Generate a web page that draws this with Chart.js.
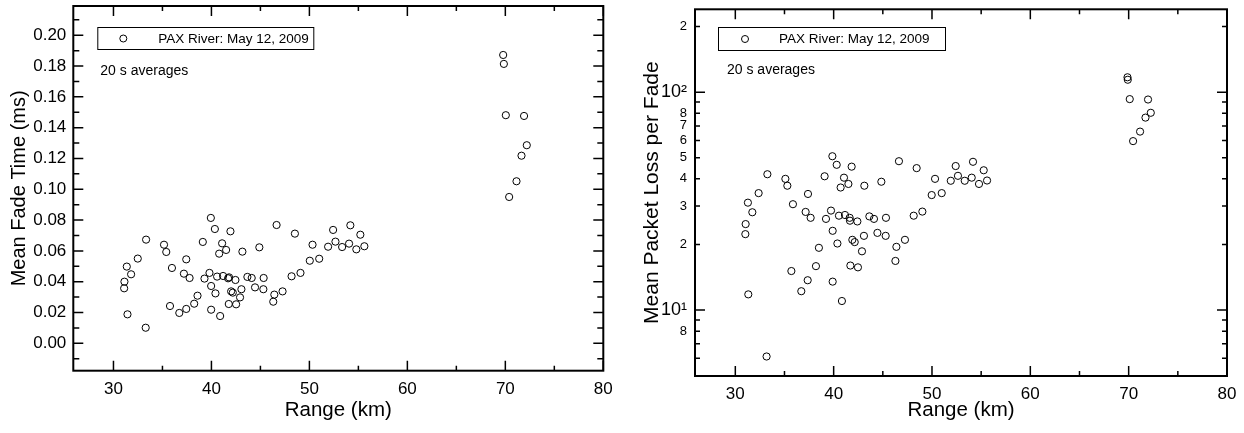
<!DOCTYPE html>
<html>
<head>
<meta charset="utf-8">
<script src="https://cdn.jsdelivr.net/npm/chart.js@4.4.0/dist/chart.umd.min.js"></script>
<style>
html,body{margin:0;padding:0;background:#fff;}
#wrap{position:relative;width:1244px;height:433px;overflow:hidden;}
.c{position:absolute;top:0;width:622px;height:433px;}
</style>
</head>
<body>
<div id="wrap">
  <div class="c" style="left:0"><canvas id="c1" width="622" height="433"></canvas></div>
  <div class="c" style="left:622px"><canvas id="c2" width="622" height="433"></canvas></div>
</div>
<script>
// ---------------- DATA ----------------
const legendLabel = 'PAX River: May 12, 2009';
const noteText = '20 s averages';

// Left panel: mean fade time (ms) vs range (km)
const fadeRange = [31.12,31.09,31.36,31.80,31.43,32.48,33.33,33.29,35.16,35.39,35.97,35.77,36.72,37.19,37.43,37.77,37.43,38.24,38.58,39.12,39.29,39.94,39.80,39.97,39.97,40.35,40.41,40.58,40.79,41.09,41.19,41.50,41.70,41.80,41.77,41.94,42.01,42.18,42.45,42.52,42.92,43.06,43.16,43.67,44.11,44.45,44.89,45.30,45.33,46.31,46.42,46.65,47.26,48.18,48.52,49.09,40.89,50.04,50.32,51.00,51.91,52.42,52.66,53.34,54.05,54.18,54.79,55.20,55.61,69.78,69.85,70.05,71.91,72.19,71.65,71.14,70.39];
const fadeTime = [0.0400,0.0357,0.0498,0.0448,0.0188,0.0550,0.0673,0.0101,0.0640,0.0593,0.0489,0.0242,0.0197,0.0452,0.0545,0.0424,0.0223,0.0257,0.0309,0.0658,0.0420,0.0814,0.0457,0.0372,0.0218,0.0742,0.0324,0.0433,0.0582,0.0649,0.0437,0.0606,0.0422,0.0428,0.0255,0.0727,0.0337,0.0329,0.0411,0.0253,0.0298,0.0351,0.0595,0.0431,0.0424,0.0363,0.0623,0.0351,0.0424,0.0270,0.0316,0.0768,0.0337,0.0435,0.0712,0.0457,0.0177,0.0536,0.0640,0.0549,0.0627,0.0736,0.0660,0.0625,0.0647,0.0766,0.0610,0.0705,0.0630,0.1872,0.1814,0.1481,0.1476,0.1286,0.1218,0.1052,0.0950];

// Right panel: mean packet loss per fade vs range (km)
const lossRange = [32.37,33.26,35.09,35.29,37.39,39.08,39.87,40.31,41.05,40.71,41.50,41.83,43.12,44.85,46.64,48.44,50.31,49.97,50.99,51.91,31.28,31.05,31.02,31.73,31.32,33.18,35.86,35.70,37.15,37.66,37.36,36.71,38.20,38.50,39.22,39.73,39.90,39.90,40.38,40.54,41.15,40.84,41.63,41.66,41.70,41.90,42.14,42.41,42.47,42.88,43.08,43.63,44.10,44.45,45.29,45.32,46.28,46.38,47.25,48.14,49.02,52.41,52.64,53.33,54.17,54.04,54.78,55.26,55.60,69.88,69.91,70.11,71.97,72.25,71.71,71.16,70.45];
const lossPerFade = [34.4,42.0,40.0,37.2,34.1,41.1,50.8,46.4,40.5,36.5,37.9,45.5,37.2,38.8,48.2,44.8,40.0,33.7,34.4,39.2,31.1,24.8,22.3,28.1,11.8,6.12,30.6,15.1,28.2,26.5,13.7,12.2,15.9,19.3,26.2,28.6,23.1,13.5,20.2,27.1,27.3,11.0,26.5,25.7,16.0,21.0,20.5,25.5,15.7,18.6,21.9,26.9,26.2,22.6,21.9,26.5,16.8,19.5,21.0,27.1,28.3,45.8,41.3,39.2,47.9,40.5,37.9,43.8,39.3,117,114,92.9,92.5,80.4,76.4,65.9,59.6];

// Axis ticks
const xTickValues = [30,40,50,60,70,80];
const xMinorValues = [35,45,55,65,75];
const fadeTickValues = [0.00,0.02,0.04,0.06,0.08,0.10,0.12,0.14,0.16,0.18,0.20];
const fadeMinorValues = [-0.01,0.01,0.03,0.05,0.07,0.09,0.11,0.13,0.15,0.17,0.19,0.21];
const lossTickValues = [8,10,20,30,40,50,60,70,80,100,200];
const lossTickLabels = ['8','10\u00B9','2','3','4','5','6','7','8','10\u00B2','2'];
const lossMajorValues = [10,100];
const lossMinorValues = [6,7,8,9,20,30,40,50,60,70,80,90,200];

// ---------------- RENDERING ----------------
const FONT = '"Liberation Sans", Arial, Helvetica, sans-serif';
Chart.defaults.font.family = FONT;
Chart.defaults.color = '#000';

const frameTicks = {
  id: 'frameTicks',
  afterDraw(chart, args, o) {
    const {ctx, chartArea: a} = chart;
    const x = chart.scales.x, y = chart.scales.y;
    ctx.save();
    ctx.strokeStyle = '#000';
    ctx.lineWidth = 1.5;
    ctx.beginPath();
    const tick = (arr, len, horiz) => arr.forEach(v => {
      if (horiz) {
        const p = x.getPixelForValue(v);
        if (p < a.left - 0.5 || p > a.right + 0.5) return;
        ctx.moveTo(p, a.bottom); ctx.lineTo(p, a.bottom - len);
        ctx.moveTo(p, a.top); ctx.lineTo(p, a.top + len);
      } else {
        const p = y.getPixelForValue(v);
        if (p < a.top - 0.5 || p > a.bottom + 0.5) return;
        ctx.moveTo(a.left, p); ctx.lineTo(a.left + len, p);
        ctx.moveTo(a.right, p); ctx.lineTo(a.right - len, p);
      }
    });
    tick(o.xMajor, 10, true);
    tick(o.xMinor, 5, true);
    tick(o.yMajor, 10, false);
    tick(o.yMinor, o.yMinorLen, false);
    ctx.stroke();
    ctx.lineWidth = 2;
    ctx.strokeRect(a.left, a.top, a.right - a.left, a.bottom - a.top);
    // legend box
    const L = o.legend;
    ctx.lineWidth = 1;
    ctx.strokeRect(a.left + L.dx + 0.5, a.top + L.dy + 0.5, L.w, L.h);
    ctx.beginPath();
    ctx.arc(a.left + L.dx + L.mx, a.top + L.dy + L.h / 2 + 0.5, 3.5, 0, Math.PI * 2);
    ctx.stroke();
    ctx.fillStyle = '#000';
    ctx.font = '13.5px ' + FONT;
    ctx.textBaseline = 'middle';
    ctx.textAlign = 'left';
    ctx.fillText(legendLabel, a.left + L.dx + L.tx, a.top + L.dy + L.h / 2 + 1);
    ctx.font = '14px ' + FONT;
    ctx.fillText(noteText, a.left + o.note.dx, a.top + o.note.dy);
    ctx.restore();
  }
};

const zeroPad = s => { s.paddingTop = 0; s.paddingBottom = 0; s.paddingLeft = 0; s.paddingRight = 0; };

function makeChart(id, xs, ys, cfg) {
  const pts = xs.map((v, i) => ({x: v, y: ys[i]}));
  return new Chart(document.getElementById(id), {
    type: 'scatter',
    data: {datasets: [{
      label: legendLabel,
      data: pts,
      pointStyle: 'circle',
      pointRadius: 3.6,
      pointHoverRadius: 3.6,
      borderWidth: 1,
      borderColor: '#000',
      backgroundColor: 'rgba(0,0,0,0)'
    }]},
    options: {
      responsive: false,
      animation: false,
      devicePixelRatio: 1,
      layout: {padding: cfg.padding},
      plugins: {
        legend: {display: false},
        tooltip: {enabled: false},
        frameTicks: cfg.frame
      },
      scales: {
        x: {
          type: 'linear', min: 25.9, max: 80,
          afterBuildTicks: s => { s.ticks = xTickValues.map(v => ({value: v})); },
          afterFit: s => { s.height = cfg.xHeight; zeroPad(s); },
          grid: {display: false, drawTicks: false},
          border: {display: false},
          ticks: {font: {size: 17}, padding: cfg.xPad, maxRotation: 0, autoSkip: false, callback: v => String(v)},
          title: {display: true, text: 'Range (km)', font: {size: 20.5}, padding: {top: 0, bottom: cfg.xTitlePad}}
        },
        y: cfg.y
      }
    },
    plugins: [frameTicks]
  });
}

makeChart('c1', fadeRange, fadeTime, {
  padding: {left: 0, top: 6, right: 18.7, bottom: 0},
  xHeight: 62.3, xPad: 8, xTitlePad: 10,
  frame: {xMajor: xTickValues, xMinor: xMinorValues, yMajor: fadeTickValues, yMinor: fadeMinorValues, yMinorLen: 6,
          legend: {dx: 24, dy: 21, w: 216, h: 22, mx: 26, tx: 61}, note: {dx: 27, dy: 65}},
  y: {
    type: 'linear', min: -0.0178, max: 0.219,
    afterBuildTicks: s => { s.ticks = fadeTickValues.map(v => ({value: v})); },
    afterFit: s => { s.width = 73.3; zeroPad(s); },
    grid: {display: false, drawTicks: false},
    border: {display: false},
    ticks: {font: {size: 17}, padding: 7, autoSkip: false, callback: v => v.toFixed(2)},
    title: {display: true, text: 'Mean Fade Time (ms)', font: {size: 20}, padding: {top: 7.5, bottom: 0}}
  }
});

makeChart('c2', lossRange, lossPerFade, {
  padding: {left: 0, top: 9.3, right: 17, bottom: 0},
  xHeight: 57, xPad: 8, xTitlePad: 10,
  frame: {xMajor: xTickValues, xMinor: xMinorValues, yMajor: lossMajorValues, yMinor: lossMinorValues, yMinorLen: 5,
          legend: {dx: 23, dy: 17.7, w: 227, h: 23, mx: 27, tx: 61}, note: {dx: 32, dy: 61}},
  y: {
    type: 'logarithmic', min: 4.98, max: 240,
    afterBuildTicks: s => { s.ticks = lossTickValues.map(v => ({value: v})); },
    afterFit: s => { s.width = 73; zeroPad(s); },
    grid: {display: false, drawTicks: false},
    border: {display: false},
    ticks: {
      padding: 8, autoSkip: false,
      font: c => ({size: (c.tick && (c.tick.value === 10 || c.tick.value === 100)) ? 18 : 13}),
      callback: (v, i) => lossTickLabels[i]
    },
    title: {display: true, text: 'Mean Packet Loss per Fade', font: {size: 21}, padding: {top: 17.5, bottom: 0}}
  }
});
</script>
</body>
</html>
